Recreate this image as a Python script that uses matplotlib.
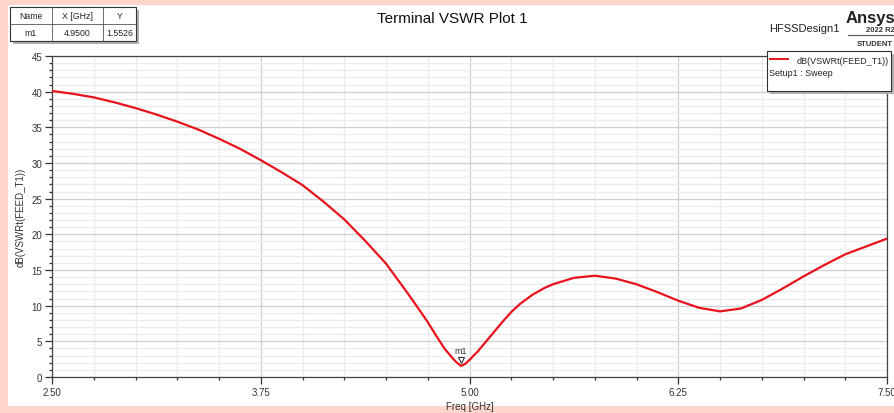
import matplotlib
matplotlib.use('Agg')
import matplotlib.pyplot as plt
from matplotlib.patches import Rectangle
from matplotlib.lines import Line2D
from matplotlib.ticker import MultipleLocator, FormatStrFormatter

plt.rcParams['font.family'] = ['Liberation Sans', 'DejaVu Sans']

# values
freq = [2.5, 2.625, 2.75, 2.875, 3.0, 3.125, 3.25, 3.375, 3.5, 3.625, 3.75, 3.875,
        4.0, 4.125, 4.25, 4.375, 4.5, 4.625, 4.7, 4.75, 4.8, 4.85, 4.9, 4.925, 4.95,
        4.975, 5.0, 5.05, 5.1, 5.15, 5.2, 5.25, 5.3, 5.375, 5.45, 5.5, 5.625, 5.75,
        5.875, 6.0, 6.125, 6.25, 6.375, 6.5, 6.625, 6.75, 6.875, 7.0, 7.125, 7.25,
        7.375, 7.5]
vswr_db = [40.1, 39.7, 39.2, 38.5, 37.7, 36.8, 35.8, 34.7, 33.4, 32.0, 30.4, 28.7,
           26.9, 24.6, 22.1, 19.1, 15.9, 11.9, 9.4, 7.7, 5.8, 4.0, 2.6, 2.0, 1.55,
           1.85, 2.4, 3.6, 5.0, 6.4, 7.8, 9.1, 10.2, 11.5, 12.5, 13.0, 13.9, 14.2,
           13.8, 13.0, 11.9, 10.7, 9.7, 9.2, 9.6, 10.8, 12.4, 14.1, 15.7, 17.2,
           18.3, 19.4]
marker_x = 4.95
marker_y = 1.5526
xticks = [2.5, 3.75, 5.0, 6.25, 7.5]

W, H = 895, 414
fig = plt.figure(figsize=(W / 100, H / 100), dpi=100)
fig.patch.set_facecolor('#FFD5CC')

def fx(x):
    return x / W

def fy(y):
    return 1 - y / H

# white plot area inside pink border
fig.add_artist(Rectangle((fx(8), fy(407)), (W - 8) / W, (407 - 6) / H,
                         transform=fig.transFigure, facecolor='white', edgecolor='none', zorder=0))

ax = fig.add_axes([fx(52), fy(378), (887 - 52) / W, (378 - 57) / H])
ax.plot(freq, vswr_db, color='#E8121C', lw=1.6, zorder=3, solid_joinstyle='round')
ax.set_xlim(2.5, 7.5)
ax.set_ylim(0, 45)
ax.set_xticks(xticks)
ax.xaxis.set_major_formatter(FormatStrFormatter('%.2f'))
ax.xaxis.set_minor_locator(MultipleLocator(0.25))
ax.yaxis.set_major_locator(MultipleLocator(5))
ax.yaxis.set_minor_locator(MultipleLocator(1))
ax.grid(which='major', color='#cfcfcf', lw=0.9)
ax.grid(which='minor', color='#ececec', lw=0.9)
ax.set_axisbelow(True)
ax.tick_params(which='major', direction='out', length=5, width=0.9, color='#333333',
               labelsize=7, labelcolor='#333333', pad=2)
ax.tick_params(which='minor', direction='out', length=2.5, width=0.9, color='#333333')
for s in ax.spines.values():
    s.set_color('#444444')
    s.set_linewidth(0.9)
ax.set_xlabel('Freq [GHz]', fontsize=7, color='#333333', labelpad=3)
ax.set_ylabel('dB(VSWRt(FEED_T1))', fontsize=7, color='#333333', labelpad=4)

# marker m1
ax.plot([marker_x], [marker_y + 0.8], marker='v', ms=5, mfc='white', mec='#333333', mew=0.8, zorder=4)
ax.text(marker_x, marker_y + 1.6, 'm1', fontsize=6.5, ha='center', va='bottom', color='#333333', zorder=4)

# title and branding
fig.text(fx(452), fy(19), 'Terminal VSWR Plot 1', fontsize=11, ha='center', va='center', color='#111111')
fig.text(fx(769), fy(29), 'HFSSDesign1', fontsize=8, ha='left', va='center', color='#222222')
fig.text(fx(846), fy(18), 'Ansys', fontsize=12, fontweight='bold', ha='left', va='center', color='#222222')
fig.text(fx(866), fy(31), '2022 R2', fontsize=5.5, fontweight='bold', ha='left', va='center', color='#333333')
fig.add_artist(Line2D([fx(848), fx(895)], [fy(35.5), fy(35.5)], color='#555555', lw=0.8))
fig.text(fx(857), fy(45), 'STUDENT', fontsize=5.5, fontweight='bold', ha='left', va='center', color='#333333')

# marker table
tx0, ty0, tx1, ty1 = 10, 8, 136, 42
fig.add_artist(Rectangle((fx(tx0 + 3), fy(ty1 + 3)), (tx1 - tx0) / W, (ty1 - ty0) / H,
                         transform=fig.transFigure, facecolor='#b0b0b0', edgecolor='none', zorder=1))
fig.add_artist(Rectangle((fx(tx0), fy(ty1)), (tx1 - tx0) / W, (ty1 - ty0) / H,
                         transform=fig.transFigure, facecolor='white', edgecolor='#333333', lw=0.8, zorder=2))
cols = [10, 52, 103, 136]
for c in cols[1:-1]:
    fig.add_artist(Line2D([fx(c), fx(c)], [fy(ty0), fy(ty1)], color='#555555', lw=0.6, zorder=3))
fig.add_artist(Line2D([fx(tx0), fx(tx1)], [fy(25), fy(25)], color='#555555', lw=0.6, zorder=3))
header = ['Name', 'X [GHz]', 'Y']
row = ['m1', '%.4f' % marker_x, '%.4f' % marker_y]
for i in range(3):
    cx = (cols[i] + cols[i + 1]) / 2
    fig.text(fx(cx), fy(16.5), header[i], fontsize=6.3, ha='center', va='center', color='#222222', zorder=4)
    fig.text(fx(cx), fy(33.5), row[i], fontsize=6.3, ha='center', va='center', color='#222222', zorder=4)

# legend box
lx0, ly0, lx1, ly1 = 767, 52, 891, 92
fig.add_artist(Rectangle((fx(lx0 + 3), fy(ly1 + 3)), (lx1 - lx0) / W, (ly1 - ly0) / H,
                         transform=fig.transFigure, facecolor='#b0b0b0', edgecolor='none', zorder=5))
fig.add_artist(Rectangle((fx(lx0), fy(ly1)), (lx1 - lx0) / W, (ly1 - ly0) / H,
                         transform=fig.transFigure, facecolor='white', edgecolor='#333333', lw=0.8, zorder=6))
fig.add_artist(Line2D([fx(770), fx(788)], [fy(60), fy(60)], color='#E8121C', lw=1.4, zorder=7))
fig.text(fx(797), fy(61.5), 'dB(VSWRt(FEED_T1))', fontsize=6.5, ha='left', va='center', color='#222222', zorder=7)
fig.text(fx(769), fy(73.5), 'Setup1 : Sweep', fontsize=6.5, ha='left', va='center', color='#222222', zorder=7)

fig.savefig('out.png', dpi=100, facecolor=fig.get_facecolor())
